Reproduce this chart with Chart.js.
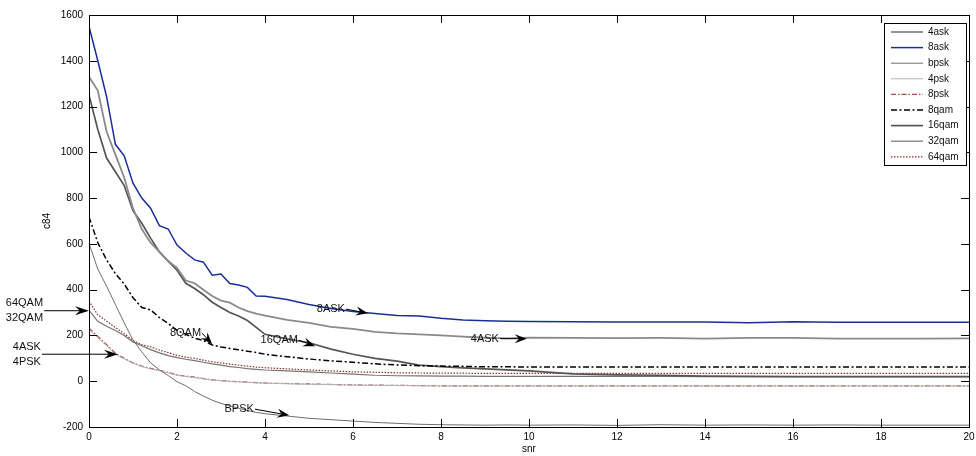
<!DOCTYPE html>
<html>
<head>
<meta charset="utf-8">
<title>c84 vs snr</title>
<script src="https://cdn.jsdelivr.net/npm/chart.js"></script>
<style>
  body { margin: 0; background: #fff; }
  #wrap { width: 976px; height: 456px; }
</style>
</head>
<body>
<div id="wrap"><canvas id="c84Chart"></canvas></div>
<script>
// snr sample points (denser where the curves fall fast)
const snr = [0,0.2,0.4,0.6,0.8,1,1.2,1.4,1.6,1.8,2,2.2,2.4,2.6,2.8,3,3.2,3.4,3.6,3.8,4,
             4.5,5,5.5,6,6.5,7,7.5,8,8.5,9,9.5,10,
             11,12,13,14,15,16,17,18,19,20];

// c84 values
const ask4  = [1330,1270,1090,990,890,755,665,605,565,525,495,440,428,400,372,352,343,322,306,295,287,
               268,255,237,229,216,209,205,200,195,190,187,190,
               189,188,189,186,189,189,186,186,186,187];
const ask8  = [1550,1400,1243,1035,985,865,800,756,680,665,595,560,530,520,463,468,427,420,410,372,371,
               357,335,318,305,296,287,285,275,268,264,262,261,
               260,259,259,259,256,260,258,258,258,258];
const bpsk  = [602,490,415,335,255,180,128,80,50,25,-2,-20,-45,-65,-83,-97,-108,-118,-128,-136,-142,
               -152,-162,-168,-174,-180,-184,-188,-190,-191,-192,-191,-192,
               -191,-193,-190,-192,-191,-192,-191,-192,-192,-192];
const psk4  = [225,190,155,118,97,78,64,54,46,36,26,20,16,10,5,2,-1,-3,-5,-7,-9,
               -11,-13,-15,-17,-18,-19,-20,-21,-21,-21,-21,-21,
               -21,-21,-21,-21,-21,-21,-21,-21,-21,-21];
const psk8  = [232,196,160,122,100,80,66,56,48,38,28,22,18,12,6,3,0,-2,-4,-6,-8,
               -10,-12,-14,-16,-17,-18,-19,-20,-20,-20,-20,-20,
               -20,-20,-20,-20,-20,-20,-20,-20,-20,-20];
const qam8  = [718,605,530,470,425,365,322,312,278,252,222,205,188,178,158,150,143,137,131,126,118,
               107,97,89,83,76,71,68,66,65,63,63,62,
               62,62,62,62,62,62,62,62,62,62];
const qam16 = [1250,1100,975,915,855,745,690,625,565,525,485,428,405,378,345,322,300,285,265,235,205,
               185,168,140,118,100,88,70,64,58,54,50,45,
               32,28,26,22,21,20,20,20,20,20];
const qam32 = [310,262,240,222,200,172,155,138,124,112,103,96,90,83,76,70,64,60,55,52,49,
               45,41,36,31,26,24,23,22,22,21,21,21,
               21,21,21,20,20,20,20,20,20,20];
const qam64 = [350,290,262,235,208,178,160,150,136,125,113,105,100,92,85,80,75,70,66,62,59,
               54,49,45,41,39,37,36,35,35,34,34,34,
               34,34,34,34,34,34,34,34,34,34];

const seriesNames = ['4ask','8ask','bpsk','4psk','8psk','8qam','16qam','32qam','64qam'];
const seriesValues = [ask4, ask8, bpsk, psk4, psk8, qam8, qam16, qam32, qam64];

const xTicks = [0,2,4,6,8,10,12,14,16,18,20];
const yTicks = [-200,0,200,400,600,800,1000,1200,1400,1600];

// text arrows drawn on the plot (data coordinates)
const noteText = [['8ASK'], ['4ASK'], ['16QAM'], ['8QAM'], ['BPSK'], ['64QAM','32QAM'], ['4ASK','4PSK']];
const noteFrom = [[5.84,315],[9.34,186],[4.77,179],[2.57,210],[3.77,-122],[-1.02,308],[-1.07,118]];
const noteTo   = [[6.34,297],[9.95,186],[5.14,153],[2.80,162],[4.55,-149],[0,308],[0.66,118]];

const FONT = 'Liberation Sans, Arial, Helvetica, sans-serif';

const styles = [
  {color: '#8a8a8a', width: 1.8, dash: []},
  {color: '#1a2f96', width: 1.5, dash: []},
  {color: '#6e6e6e', width: 1,   dash: []},
  {color: '#b4b4b4', width: 1,   dash: []},
  {color: '#a34f4f', width: 1.2, dash: [5,2,1.5,2]},
  {color: '#000000', width: 1.5, dash: [6,2.5,2,2.5]},
  {color: '#555555', width: 1.7, dash: []},
  {color: '#747474', width: 1.2, dash: []},
  {color: '#8b3030', width: 1.2, dash: [1.5,1.5]}
];

const datasets = seriesNames.map((name, i) => ({
  label: name,
  data: snr.map((x, j) => ({x: x, y: seriesValues[i][j]})),
  borderColor: styles[i].color,
  borderWidth: styles[i].width,
  borderDash: styles[i].dash,
  pointRadius: 0,
  tension: 0,
  fill: false
}));

// MATLAB-like box with inward ticks, legend and text arrows
const matlabLook = {
  id: 'matlabLook',
  afterDraw(chart) {
    const {ctx, chartArea: a, scales: {x, y}} = chart;
    const tl = 8;
    ctx.save();
    ctx.strokeStyle = '#000';
    ctx.lineWidth = 1;
    ctx.setLineDash([]);
    ctx.beginPath();
    xTicks.forEach(v => {
      const px = Math.round(x.getPixelForValue(v)) + 0.5;
      ctx.moveTo(px, a.bottom); ctx.lineTo(px, a.bottom - tl);
      ctx.moveTo(px, a.top); ctx.lineTo(px, a.top + tl);
    });
    yTicks.forEach(v => {
      const py = Math.round(y.getPixelForValue(v)) + 0.5;
      ctx.moveTo(a.left, py); ctx.lineTo(a.left + tl, py);
      ctx.moveTo(a.right, py); ctx.lineTo(a.right - tl, py);
    });
    ctx.stroke();
    ctx.strokeRect(Math.round(a.left) + 0.5, Math.round(a.top) + 0.5,
                   Math.round(a.right - a.left), Math.round(a.bottom - a.top));

    // text arrows
    ctx.fillStyle = '#111';
    ctx.font = '11px ' + FONT;
    ctx.textAlign = 'right';
    ctx.textBaseline = 'middle';
    noteText.forEach((lines, i) => {
      const x1 = x.getPixelForValue(noteFrom[i][0]), y1 = y.getPixelForValue(noteFrom[i][1]);
      const x2 = x.getPixelForValue(noteTo[i][0]),   y2 = y.getPixelForValue(noteTo[i][1]);
      const lh = 15;
      lines.forEach((t, k) => {
        ctx.fillText(t, x1 - 1, y1 + (k - (lines.length - 1) / 2) * lh);
      });
      const ang = Math.atan2(y2 - y1, x2 - x1);
      const len = lines.length > 1 ? 14 : 12, half = 4.5;
      ctx.strokeStyle = '#000';
      ctx.beginPath();
      ctx.moveTo(x1, y1);
      ctx.lineTo(x2 - Math.cos(ang) * len * 0.6, y2 - Math.sin(ang) * len * 0.6);
      ctx.stroke();
      ctx.save();
      ctx.translate(x2, y2);
      ctx.rotate(ang);
      ctx.fillStyle = '#000';
      ctx.beginPath();
      ctx.moveTo(0, 0);
      ctx.lineTo(-len, -half);
      ctx.lineTo(-len * 0.65, 0);
      ctx.lineTo(-len, half);
      ctx.closePath();
      ctx.fill();
      ctx.restore();
    });

    // legend box
    const lw = 82, lhBox = 142;
    const lx = a.right - 3 - lw, ly = a.top + 8;
    ctx.fillStyle = '#fff';
    ctx.fillRect(lx, ly, lw, lhBox);
    ctx.strokeStyle = '#000';
    ctx.lineWidth = 1;
    ctx.strokeRect(Math.round(lx) + 0.5, Math.round(ly) + 0.5, lw, lhBox);
    ctx.font = '10px ' + FONT;
    ctx.textAlign = 'left';
    ctx.textBaseline = 'middle';
    chart.data.datasets.forEach((ds, i) => {
      const ry = ly + 9 + i * 15.6;
      ctx.strokeStyle = ds.borderColor;
      ctx.lineWidth = ds.borderWidth;
      ctx.setLineDash(ds.borderDash);
      ctx.beginPath();
      ctx.moveTo(lx + 7, ry);
      ctx.lineTo(lx + 39, ry);
      ctx.stroke();
      ctx.setLineDash([]);
      ctx.fillStyle = '#111';
      ctx.fillText(ds.label, lx + 44, ry);
    });
    ctx.restore();
  }
};

new Chart(document.getElementById('c84Chart'), {
  type: 'line',
  data: {datasets: datasets},
  options: {
    responsive: true,
    maintainAspectRatio: false,
    animation: false,
    devicePixelRatio: 1,
    layout: {padding: {top: 15, right: 7, left: 0, bottom: 0}},
    plugins: {legend: {display: false}, tooltip: {enabled: false}},
    scales: {
      x: {
        type: 'linear',
        min: 0, max: 20,
        afterFit(scale) { scale.height = 29; scale.paddingLeft = 0; scale.paddingRight = 0; },
        afterBuildTicks(scale) { scale.ticks = xTicks.map(v => ({value: v})); },
        ticks: {color: '#000', font: {family: FONT, size: 10}, padding: 4, maxRotation: 0,
                callback: v => String(v)},
        grid: {display: false, drawTicks: false, tickLength: 0},
        border: {display: false},
        title: {display: true, text: 'snr', color: '#000', font: {family: FONT, size: 10}, padding: {top: 1, bottom: 1}}
      },
      y: {
        type: 'linear',
        min: -200, max: 1600,
        afterFit(scale) { scale.width = 89; scale.paddingTop = 0; scale.paddingBottom = 0; },
        afterBuildTicks(scale) { scale.ticks = yTicks.map(v => ({value: v})); },
        ticks: {color: '#000', font: {family: FONT, size: 10}, padding: 6,
                callback: v => String(v)},
        grid: {display: false, drawTicks: false, tickLength: 0},
        border: {display: false},
        title: {display: true, text: 'c84', color: '#000', font: {family: FONT, size: 10}, padding: {top: 41, bottom: 0}}
      }
    }
  },
  plugins: [matlabLook]
});
</script>
</body>
</html>
